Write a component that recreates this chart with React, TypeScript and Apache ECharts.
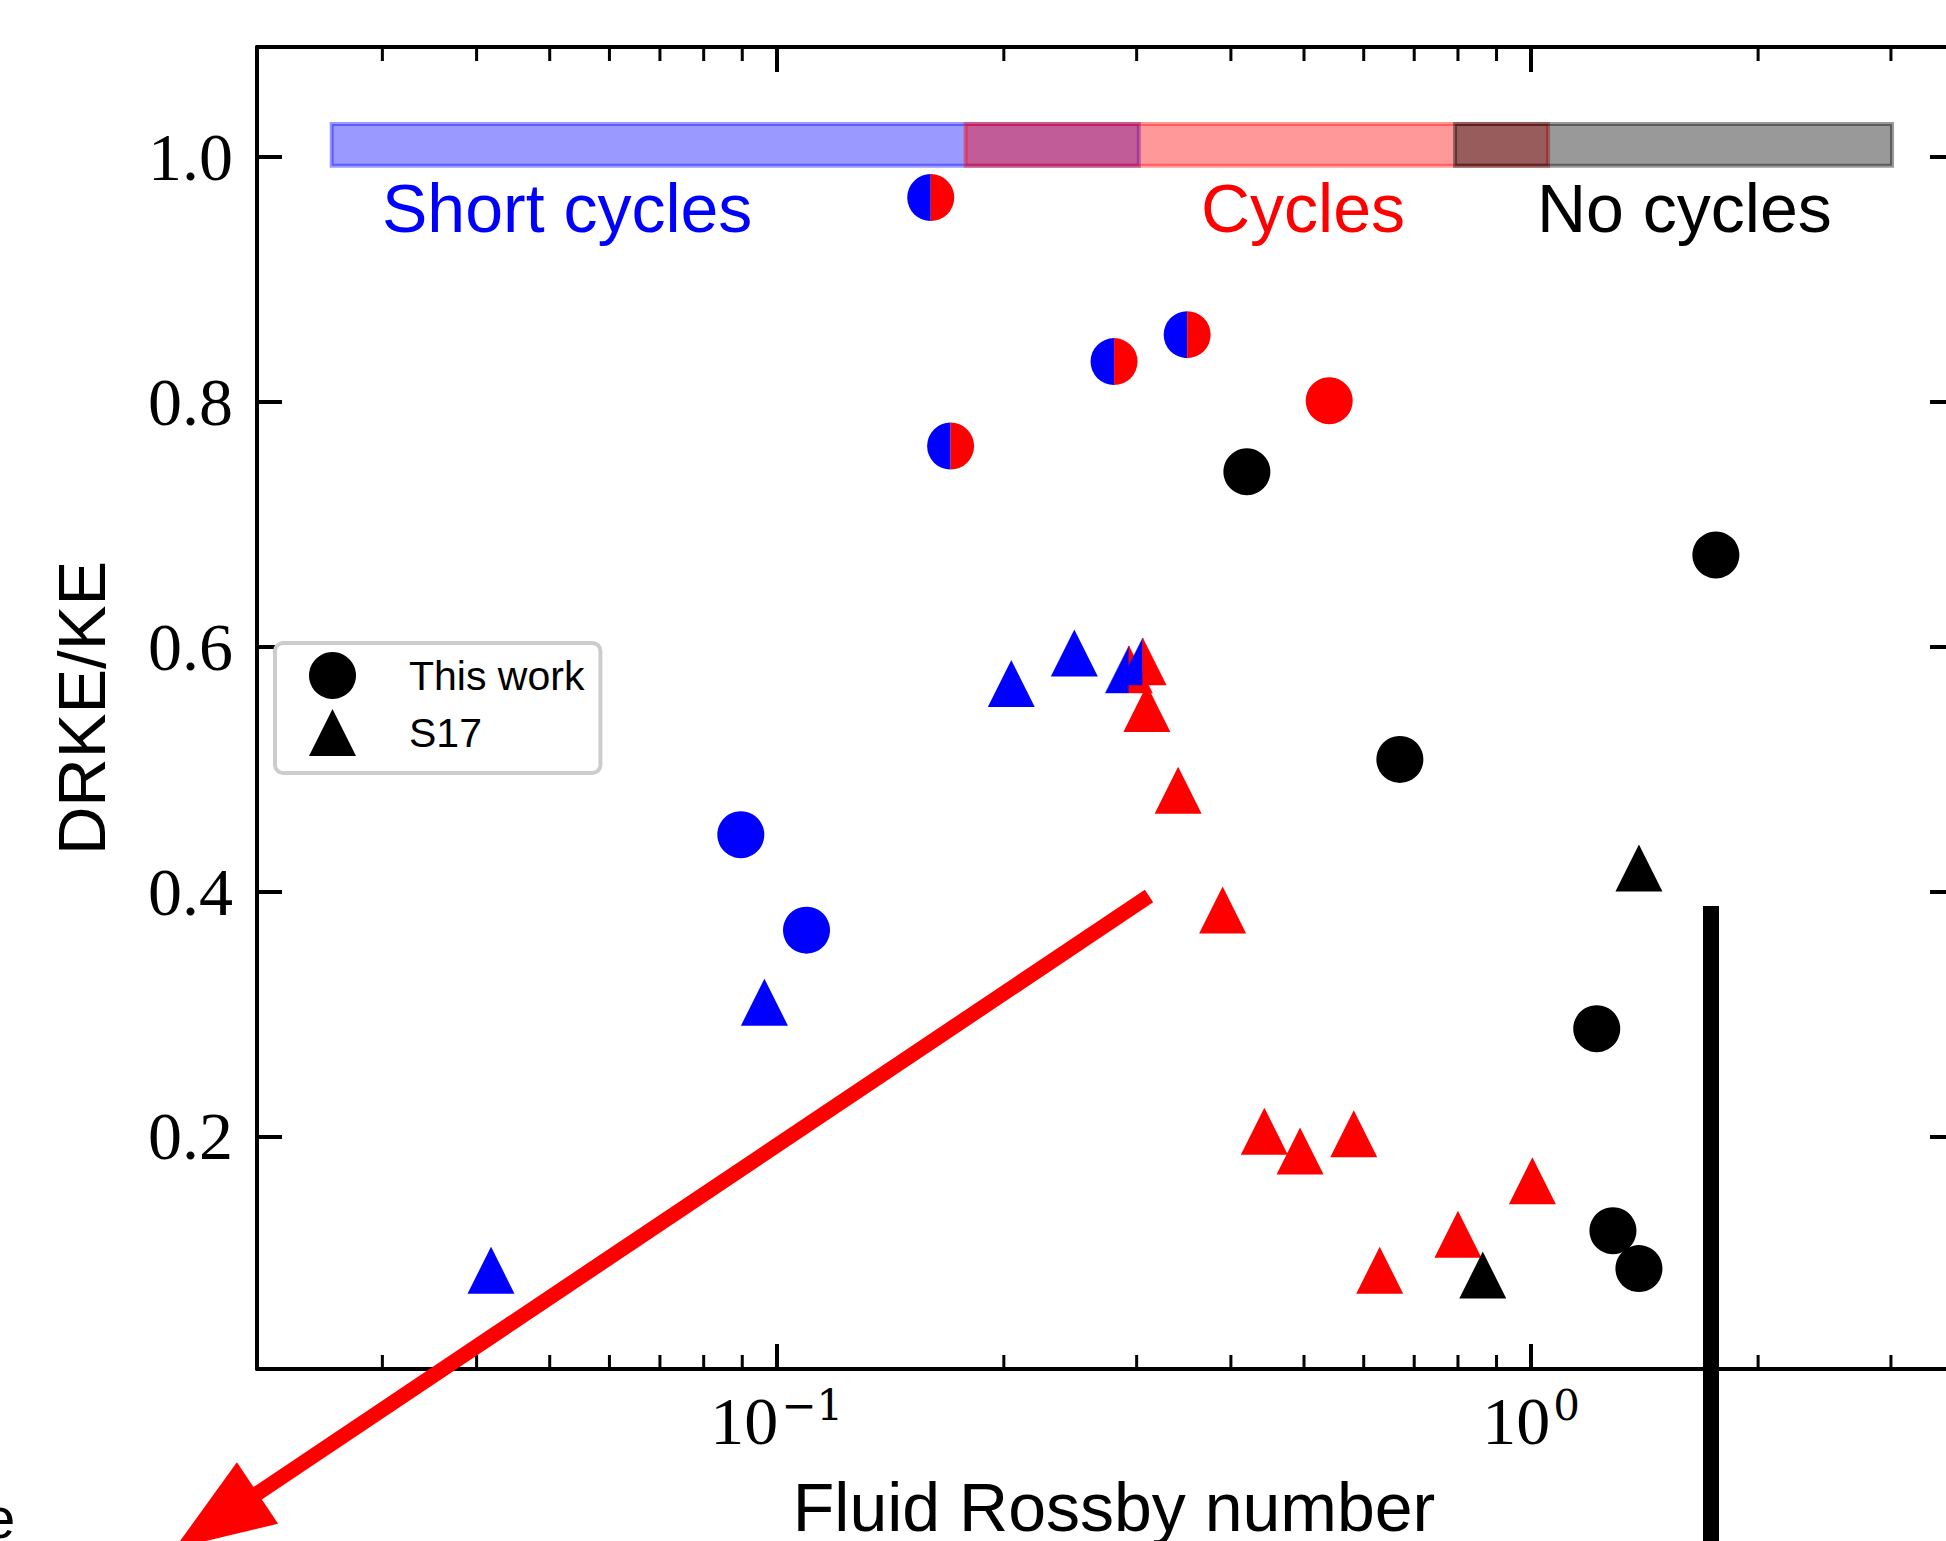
import React, { useEffect, useRef } from 'react';
import * as echarts from 'echarts';

// ---- axis ranges ----
const X_MIN = 0.02046;
const X_MAX = 3.648;
const Y_MIN = 0.01;
const Y_MAX = 1.09;

// ---- data (Fluid Rossby number, DRKE/KE) ----
// "This work" (circles)
const circlesBlack = [[0.420, 0.743], [0.670, 0.508], [1.758, 0.675], [1.222, 0.288], [1.284, 0.123], [1.390, 0.092]];
const circlesRed = [[0.540, 0.801]];
const circlesBlue = [[0.0896, 0.4465], [0.1095, 0.3685]];
const circlesMixed = [[0.160, 0.967], [0.170, 0.764], [0.280, 0.833], [0.350, 0.855]];
// S17 (triangles)
const trianglesBlue = [[0.0418, 0.0907], [0.0963, 0.3097], [0.2046, 0.570], [0.248, 0.595]];
const trianglesMixed = [[0.293, 0.5815], [0.3056, 0.588]];
const trianglesRed = [[0.3095, 0.5496], [0.3405, 0.4828], [0.390, 0.385], [0.443, 0.2043], [0.494, 0.188], [0.582, 0.2022], [0.630, 0.0907], [0.800, 0.120], [1.004, 0.1637]];
const trianglesBlack = [[0.863, 0.0867], [1.39, 0.4192]];

// regime bands
const regimeLabels = ['Short cycles', 'Cycles', 'No cycles'];
const regimeSpans = [[0.0257, 0.302], [0.178, 1.053], [0.793, 3.01]];
const regimeBandY = [0.993, 1.027];

// minor ticks of the log axis
const minorTickValues = [0.03, 0.04, 0.05, 0.06, 0.07, 0.08, 0.09, 0.2, 0.3, 0.4, 0.5, 0.6, 0.7, 0.8, 0.9, 2, 3];

const BLUE = '#0000ff';
const RED = '#ff0000';
const BLACK = '#000000';
const bandFills = ['rgba(0,0,255,0.4)', 'rgba(255,0,0,0.4)', 'rgba(0,0,0,0.4)'];
const labelColors = [BLUE, RED, BLACK];

const SANS = 'Liberation Sans, Arial, Helvetica, sans-serif';
const SERIF = 'Liberation Serif, Times New Roman, serif';
const MS = 47; // marker size

function buildOption() {
  const axisLine = { show: true, onZero: false, lineStyle: { color: BLACK, width: 4 } };
  const axisTick = { show: true, inside: true, length: 25, lineStyle: { color: BLACK, width: 4 } };

  const xLabelFormatter = (v: number) => {
    const l = Math.log10(v);
    const e = Math.round(l);
    if (Math.abs(l - e) > 1e-6) return '';
    return `{b|10}{s|${e < 0 ? '\u2212' : ''}${Math.abs(e)}}`;
  };
  const yLabelFormatter = (v: number) => {
    const k = v / 0.2;
    if (Math.abs(k - Math.round(k)) > 1e-6) return '';
    return v.toFixed(1);
  };

  const scatterStyle = (color: string) => ({ color, opacity: 1, borderWidth: 0 });

  return {
    animation: false,
    backgroundColor: '#ffffff',
    grid: { left: 257, top: 47, width: 1698, height: 1322, containLabel: false, outerBoundsMode: 'none' },
    xAxis: [
      {
        type: 'log', logBase: 10, min: X_MIN, max: X_MAX, position: 'bottom',
        axisLine, axisTick, splitLine: { show: false }, minorTick: { show: false },
        axisLabel: {
          formatter: xLabelFormatter, margin: 15, color: BLACK,
          showMinLabel: false, showMaxLabel: false,
          rich: {
            b: { fontFamily: SERIF, fontSize: 68, color: BLACK, verticalAlign: 'bottom' },
            s: { fontFamily: 'DejaVu Serif, serif', fontSize: 42, color: BLACK, verticalAlign: 'bottom', padding: [0, 0, 29, 3] },
          },
        },
        name: 'Fluid Rossby number', nameLocation: 'middle', nameGap: 104,
        nameTextStyle: { fontFamily: SANS, fontSize: 68, color: BLACK, padding: [0, 0, 0, 16] },
      },
      {
        type: 'log', logBase: 10, min: X_MIN, max: X_MAX, position: 'top',
        axisLine, axisTick, splitLine: { show: false }, axisLabel: { show: false },
      },
    ],
    yAxis: [
      {
        type: 'value', min: Y_MIN, max: Y_MAX, splitNumber: 5, position: 'left',
        axisLine, axisTick, splitLine: { show: false },
        axisLabel: { formatter: yLabelFormatter, fontFamily: SERIF, fontSize: 68, color: BLACK, margin: 24, showMinLabel: false, showMaxLabel: false },
        name: 'DRKE/KE', nameLocation: 'middle', nameGap: 142, nameRotate: 90,
        nameTextStyle: { fontFamily: SANS, fontSize: 67, color: BLACK },
      },
      {
        type: 'value', min: Y_MIN, max: Y_MAX, splitNumber: 5, position: 'right',
        axisLine, axisTick, splitLine: { show: false }, axisLabel: { show: false },
      },
    ],
    legend: {
      data: [{ name: 'This work', icon: 'circle' }, { name: 'S17', icon: 'triangle' }],
      orient: 'vertical', left: 275, top: 643,
      itemWidth: MS, itemHeight: MS, itemGap: 10,
      padding: [9, 16, 17, 34],
      backgroundColor: '#ffffff', borderColor: '#cccccc', borderWidth: 4, borderRadius: 8,
      textStyle: { fontFamily: SANS, fontSize: 41, color: BLACK, padding: [0, 0, 0, 48] },
      selectedMode: false, z: 20,
    },
    series: [
      {
        type: 'custom', name: 'regimes', silent: true, z: 1,
        data: regimeSpans.map((s, i) => [s[0], s[1], i]),
        renderItem: (params: any, api: any) => {
          const i = api.value(2);
          const p0 = api.coord([api.value(0), regimeBandY[1]]);
          const p1 = api.coord([api.value(1), regimeBandY[0]]);
          return {
            type: 'rect',
            shape: { x: p0[0], y: p0[1], width: p1[0] - p0[0], height: p1[1] - p0[1] },
            style: { fill: bandFills[i], stroke: bandFills[i], lineWidth: 4 },
          };
        },
      },
      { type: 'scatter', name: 'blueCircles', symbol: 'circle', symbolSize: MS, itemStyle: scatterStyle(BLUE), data: circlesBlue, silent: true, z: 3 },
      { type: 'scatter', name: 'This work', symbol: 'circle', symbolSize: MS, itemStyle: scatterStyle(BLACK), data: circlesBlack, silent: true, z: 3 },
      { type: 'scatter', name: 'redCircles', symbol: 'circle', symbolSize: MS, itemStyle: scatterStyle(RED), data: circlesRed, silent: true, z: 3 },
      {
        type: 'custom', name: 'mixedCircles', silent: true, z: 3,
        data: circlesMixed,
        renderItem: (params: any, api: any) => {
          const p = api.coord([api.value(0), api.value(1)]);
          const r = MS / 2;
          return {
            type: 'group',
            children: [
              { type: 'sector', shape: { cx: p[0], cy: p[1], r, r0: 0, startAngle: Math.PI / 2, endAngle: Math.PI * 1.5, clockwise: true }, style: { fill: BLUE } },
              { type: 'sector', shape: { cx: p[0], cy: p[1], r, r0: 0, startAngle: -Math.PI / 2, endAngle: Math.PI / 2, clockwise: true }, style: { fill: RED } },
            ],
          };
        },
      },
      { type: 'scatter', name: 'blueTriangles', symbol: 'triangle', symbolSize: MS, itemStyle: scatterStyle(BLUE), data: trianglesBlue, silent: true, z: 3 },
      {
        type: 'custom', name: 'mixedTriangles', silent: true, z: 3,
        data: trianglesMixed,
        renderItem: (params: any, api: any) => {
          const p = api.coord([api.value(0), api.value(1)]);
          const r = MS / 2;
          const cx = p[0], cy = p[1];
          return {
            type: 'group',
            children: [
              { type: 'polygon', shape: { points: [[cx, cy - r], [cx - r, cy + r], [cx, cy + r]] }, style: { fill: BLUE, stroke: BLUE, lineWidth: 0.5 } },
              { type: 'polygon', shape: { points: [[cx, cy - r], [cx + r, cy + r], [cx, cy + r]] }, style: { fill: RED, stroke: RED, lineWidth: 0.5 } },
            ],
          };
        },
      },
      { type: 'scatter', name: 'redTriangles', symbol: 'triangle', symbolSize: MS, itemStyle: scatterStyle(RED), data: trianglesRed, silent: true, z: 3 },
      { type: 'scatter', name: 'S17', symbol: 'triangle', symbolSize: MS, itemStyle: scatterStyle(BLACK), data: trianglesBlack, silent: true, z: 3 },
      {
        type: 'custom', name: 'minorTicks', silent: true, z: 5,
        data: minorTickValues.map((v) => [v, Y_MIN]),
        renderItem: (params: any, api: any) => {
          const x = api.coord([api.value(0), Y_MIN])[0];
          const cs = params.coordSys;
          const bottom = cs.y + cs.height;
          const top = cs.y;
          const st = { stroke: BLACK, lineWidth: 3 };
          return {
            type: 'group',
            children: [
              { type: 'line', shape: { x1: x, y1: bottom, x2: x, y2: bottom - 14 }, style: st },
              { type: 'line', shape: { x1: x, y1: top, x2: x, y2: top + 14 }, style: st },
            ],
          };
        },
      },
    ],
    graphic: [
      { type: 'text', x: 382, y: 208, z: 50, style: { text: regimeLabels[0], fontFamily: SANS, fontSize: 68, fill: labelColors[0], verticalAlign: 'middle', align: 'left' } },
      { type: 'text', x: 1201, y: 208, z: 50, style: { text: regimeLabels[1], fontFamily: SANS, fontSize: 68, fill: labelColors[1], verticalAlign: 'middle', align: 'left' } },
      { type: 'text', x: 1537, y: 208, z: 50, style: { text: regimeLabels[2], fontFamily: SANS, fontSize: 68, fill: labelColors[2], verticalAlign: 'middle', align: 'left' } },
      // overlaid annotations
      { type: 'line', z: 100, shape: { x1: 1149, y1: 896, x2: 252, y2: 1497 }, style: { stroke: RED, lineWidth: 15, lineCap: 'butt' } },
      { type: 'polygon', z: 100, shape: { points: [[236.9, 1462.3], [278.1, 1523.7], [174.6, 1548.5]] }, style: { fill: RED } },
      { type: 'rect', z: 100, shape: { x: 1703, y: 906, width: 16, height: 700 }, style: { fill: BLACK } },
      { type: 'text', x: -17, y: 1517, z: 100, style: { text: 'e', fontFamily: SANS, fontSize: 58, fill: BLACK, verticalAlign: 'middle', align: 'left' } },
    ],
  };
}

export default function App() {
  const ref = useRef<HTMLDivElement>(null);
  useEffect(() => {
    if (!ref.current) return;
    const chart = echarts.init(ref.current, null, { renderer: 'svg' });
    chart.setOption(buildOption() as any);
    return () => chart.dispose();
  }, []);
  return (
    <div
      ref={ref}
      style={{ position: 'fixed', left: 0, top: 0, width: 1946, height: 1541, background: '#ffffff' }}
    />
  );
}
